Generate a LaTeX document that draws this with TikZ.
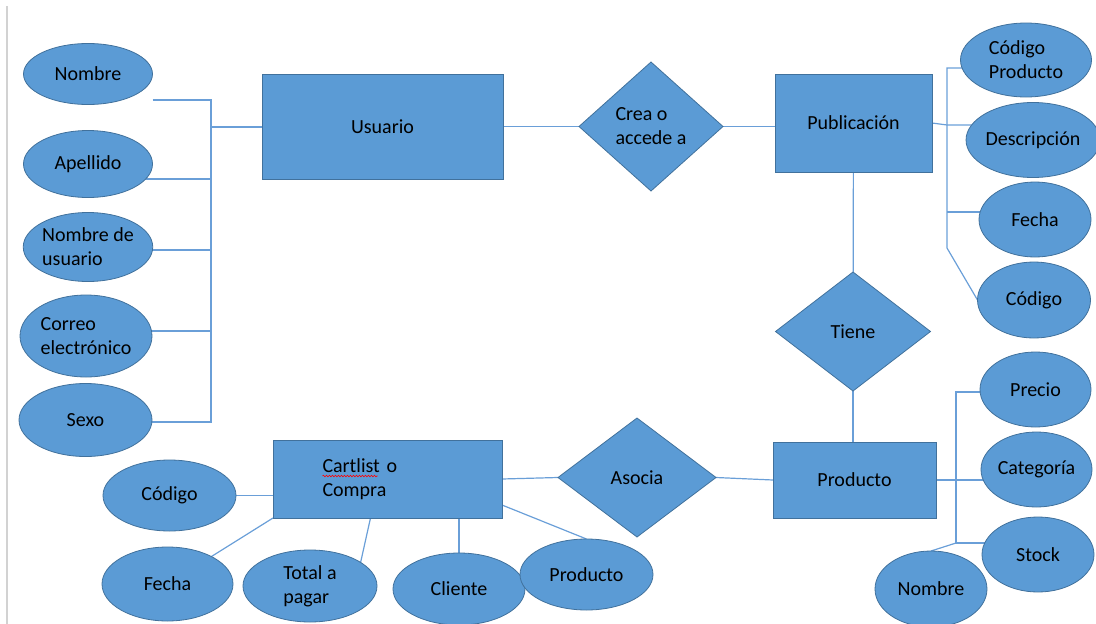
\documentclass[tikz,border=0pt]{standalone}
\usepackage{fontspec}
\setmainfont{Carlito}
\usetikzlibrary{shapes.geometric}
\usetikzlibrary{backgrounds}
\usetikzlibrary{decorations.pathmorphing}
\definecolor{erfill}{HTML}{5B9BD5}
\definecolor{erborder}{HTML}{41719C}
\definecolor{erlink}{HTML}{6A9FD8}

\begin{document}
\begin{tikzpicture}[x=1pt,y=-1pt,font=\fontsize{20}{24}\selectfont,
  every node/.style={fill=erfill,draw=erborder,line width=0.8pt,inner sep=0pt,outer sep=0pt},
  entity/.style={rectangle},
  attrib/.style={ellipse},
  relation/.style={diamond},
  link/.style={draw=erlink,line width=1.2pt}]
  \useasboundingbox (0,0) rectangle (1096,624);
  \draw[gray!35,line width=1.5pt] (7,6) -- (7,624);

  \node[entity,minimum width=241pt,minimum height=105pt] (usuario) at (382.5,126.5) {Usuario};
  \node[relation,minimum width=144pt,minimum height=129pt,align=left] (crea) at (651,126.5) {Crea o\\accede a};
  \node[entity,minimum width=157pt,minimum height=98pt] (publicacion) at (853.5,123) {Publicación};
  \node[relation,minimum width=155pt,minimum height=119pt] (tiene) at (853,331.5) {Tiene};
  \node[entity,minimum width=163pt,minimum height=76pt] (producto) at (854.5,480) {Producto};
  \node[relation,minimum width=158pt,minimum height=119pt] (asocia) at (637,477.5) {Asocia};
  \node[entity,minimum width=229pt,minimum height=78pt,text width=130pt,align=left] (cartlist) at (387.5,479) {Cartlist o\\Compra};

  \node[attrib,minimum width=129pt,minimum height=61pt] (u-nombre) at (88,74) {Nombre};
  \node[attrib,minimum width=129pt,minimum height=67pt] (u-apellido) at (88,164) {Apellido};
  \node[attrib,minimum width=129pt,minimum height=69pt,align=left] (u-usuario) at (88,247) {Nombre de\\usuario};
  \node[attrib,minimum width=132pt,minimum height=82pt,align=left] (u-correo) at (86,336) {Correo\\electrónico};
  \node[attrib,minimum width=133pt,minimum height=73pt] (u-sexo) at (85.5,420) {Sexo};

  \node[attrib,minimum width=131pt,minimum height=74pt,align=left] (p-codprod) at (1026,60) {Código\\Producto};
  \node[attrib,minimum width=128pt,minimum height=75pt] (p-descripcion) at (1033,140) {Descripción};
  \node[attrib,minimum width=112pt,minimum height=75pt] (p-fecha) at (1035,219.5) {Fecha};
  \node[attrib,minimum width=113pt,minimum height=76pt] (p-codigo) at (1034,300) {Código};

  \node[attrib,minimum width=111pt,minimum height=75pt] (d-precio) at (1035.5,389.5) {Precio};
  \node[attrib,minimum width=111pt,minimum height=75pt] (d-categoria) at (1036.5,469.5) {Categoría};
  \node[attrib,minimum width=112pt,minimum height=75pt] (d-stock) at (1038,554.5) {Stock};
  \node[attrib,minimum width=112pt,minimum height=76pt] (d-nombre) at (931,589) {Nombre};

  \node[attrib,minimum width=133pt,minimum height=71pt] (c-codigo) at (169.5,495.5) {Código};
  \node[attrib,minimum width=131pt,minimum height=74pt] (c-fecha) at (167.5,584) {Fecha};
  \node[attrib,minimum width=134pt,minimum height=72pt,align=left] (c-total) at (310,586) {Total a\\pagar};
  \node[attrib,minimum width=132pt,minimum height=72pt] (c-cliente) at (459,589) {Cliente};
  \node[attrib,minimum width=133pt,minimum height=71pt] (c-producto) at (586.5,574.5) {Producto};

  \draw[red,line width=0.6pt,decorate,decoration={snake,amplitude=0.8pt,segment length=3pt}]
    ([xshift=-65pt,yshift=3pt]cartlist.center) -- ++(55,0);

  \begin{scope}[on background layer]
    \coordinate (ub1) at (211,100);
    \coordinate (ub2) at (211,179);
    \coordinate (ub3) at (211,250);
    \coordinate (ub4) at (211,331);
    \coordinate (ub5) at (211,422);
    \coordinate (ubu) at (211,127);
    \coordinate (pb1) at (947,68);
    \coordinate (pb2) at (947,125);
    \coordinate (pb3) at (947,212);
    \coordinate (pb4) at (947,248);
    \coordinate (db1) at (956,392);
    \coordinate (db2) at (956,543);
    \draw[link] (ub1 -| u-nombre.east) -- (ub1) -- (ub5) -- (ub5 -| u-sexo.center);
    \draw[link] (ub2 -| u-apellido.center) -- (ub2);
    \draw[link] (ub3 -| u-usuario.center) -- (ub3);
    \draw[link] (ub4 -| u-correo.center) -- (ub4);
    \draw[link] (ubu) -- (ubu -| usuario.west);
    \draw[link] (usuario.east) -- (crea.west);
    \draw[link] (crea.east) -- (crea.east -| publicacion.west);
    \draw[link] (pb1 -| p-codprod.center) -- (pb1) -- (pb4) -- (p-codigo.west);
    \draw[link] (publicacion.east) -- (pb2) -- (pb2 -| p-descripcion.center);
    \draw[link] (pb3) -- (pb3 -| p-fecha.center);
    \draw[link] (publicacion) -- (tiene);
    \draw[link] (tiene.south) -- (tiene.south |- producto.north);
    \draw[link] (db1 -| d-precio.center) -- (db1) -- (db2) -- (db2 -| d-stock.center);
    \draw[link] (db2) -- (d-nombre.north);
    \draw[link] (producto) -- (producto -| d-categoria.center);
    \draw[link] (asocia.east) -- (producto.west);
    \draw[link] (cartlist.east) -- (asocia.west);
    \draw[link] (c-codigo) -- (c-codigo -| cartlist.center);
    \draw[link] (cartlist.south west) -- (c-fecha);
    \draw[link] ([xshift=-17pt]cartlist.south) -- (c-total.25);
    \draw[link] (c-cliente.north |- cartlist.south) -- (c-cliente.north);
    \draw[link] ([yshift=13pt]cartlist.south east) -- (c-producto.north);
  \end{scope}
\end{tikzpicture}
\end{document}
